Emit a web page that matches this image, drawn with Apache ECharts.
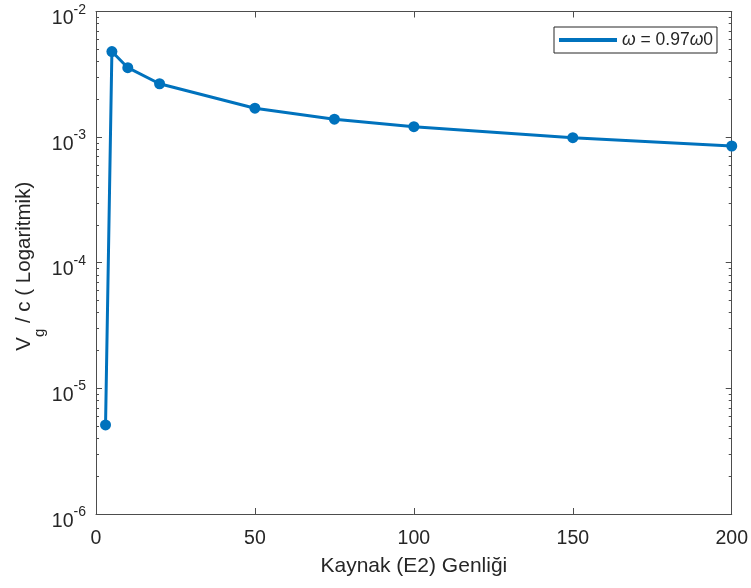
<!DOCTYPE html>
<html>
<head>
<meta charset="utf-8">
<script src="https://cdn.jsdelivr.net/npm/echarts@6/dist/echarts.min.js"></script>
<style>
  html, body { margin: 0; padding: 0; background: #ffffff; }
  #chart { width: 751px; height: 588px; }
</style>
</head>
<body>
<div id="chart"></div>
<script>
// Source amplitude (E2) and normalised group velocity Vg / c
const amplitudes = [3, 5, 10, 20, 50, 75, 100, 150, 200];
const groupVelocity = [5.12e-6, 4.80e-3, 3.57e-3, 2.66e-3, 1.70e-3, 1.39e-3, 1.21e-3, 0.99e-3, 8.5e-4];

// Axis ticks
const xTicks = [0, 50, 100, 150, 200];
const yDecades = [1e-6, 1e-5, 1e-4, 1e-3, 1e-2];
const yMinor = [];
for (let d = 0; d < yDecades.length - 1; d++) {
  for (let m = 2; m <= 9; m++) yMinor.push(m * yDecades[d]);
}

const seriesName = 'omega';
const FONT = '"Liberation Sans", Arial, Helvetica, sans-serif';
const TEXT = '#262626';
const AXIS = '#4d4d4d';
const BLUE = '#0072BD';

const chart = echarts.init(document.getElementById('chart'), null, { renderer: 'canvas' });

const logAxisBase = {
  type: 'log',
  logBase: 10,
  min: 1e-6,
  max: 1e-2,
  gridIndex: 0,
  splitLine: { show: false },
  minorTick: { show: false },
  minorSplitLine: { show: false }
};

function powerLabel(v) {
  const e = Math.round(Math.log10(v));
  return '{b|10}{s|' + e + '}';
}

const option = {
  backgroundColor: '#ffffff',
  animation: false,
  textStyle: { fontFamily: FONT, color: TEXT },
  grid: { left: 96, right: 19, top: 11.5, bottom: 74, containLabel: false },
  legend: {
    left: 554,
    top: 27,
    orient: 'vertical',
    backgroundColor: '#ffffff',
    borderColor: TEXT,
    borderWidth: 1,
    borderRadius: 0,
    padding: [4, 4, 4, 5],
    itemWidth: 58,
    itemHeight: 4,
    itemGap: 0,
    data: [{ name: seriesName, icon: 'rect' }],
    formatter: function () { return '{i|ω} = 0.97{i|ω}0'; },
    textStyle: {
      fontFamily: FONT,
      fontSize: 17.5,
      color: TEXT,
      rich: {
        i: { fontStyle: 'italic', fontFamily: FONT, fontSize: 17.5, color: TEXT }
      }
    }
  },
  xAxis: [
    {
      type: 'value',
      min: 0,
      max: 200,
      interval: 50,
      position: 'bottom',
      name: 'Kaynak (E2) Genliği',
      nameLocation: 'middle',
      nameGap: 42,
      nameMoveOverlap: false,
      nameTextStyle: { fontFamily: FONT, fontSize: 21, color: TEXT },
      axisLine: { show: true, lineStyle: { color: AXIS, width: 1 } },
      axisTick: { show: true, inside: true, length: 6, lineStyle: { color: AXIS } },
      axisLabel: { fontFamily: FONT, fontSize: 19.5, color: TEXT, margin: 15,
        customValues: xTicks },
      splitLine: { show: false }
    },
    {
      type: 'value',
      min: 0,
      max: 200,
      interval: 50,
      position: 'top',
      axisLine: { show: true, lineStyle: { color: AXIS, width: 1 } },
      axisTick: { show: true, inside: true, length: 6, lineStyle: { color: AXIS } },
      axisLabel: { show: false },
      splitLine: { show: false }
    }
  ],
  yAxis: [
    Object.assign({}, logAxisBase, {
      position: 'left',
      name: '{a|V}{g|g}{a| / c ( Logaritmik)}',
      nameLocation: 'middle',
      nameRotate: 90,
      nameGap: 62,
      nameMoveOverlap: false,
      nameTextStyle: {
        fontFamily: FONT,
        color: TEXT,
        padding: [0, 7, 0, 0],
        rich: {
          a: { fontFamily: FONT, fontSize: 20.5, lineHeight: 20.5, verticalAlign: 'top', color: TEXT },
          g: { fontFamily: FONT, fontSize: 15, lineHeight: 15, padding: [19, 0, 0, 0], verticalAlign: 'top', color: TEXT }
        }
      },
      axisLine: { show: true, lineStyle: { color: AXIS, width: 1 } },
      axisTick: { show: true, inside: true, length: 6, lineStyle: { color: AXIS }, customValues: yDecades },
      axisLabel: {
        show: true,
        margin: 10,
        customValues: yDecades,
        formatter: powerLabel,
        rich: {
          b: { fontFamily: FONT, fontSize: 19.5, lineHeight: 19.5, padding: [7, 0, 0, 0], verticalAlign: 'top', color: TEXT },
          s: { fontFamily: FONT, fontSize: 14, lineHeight: 14, padding: [1, 0, 0, 0], verticalAlign: 'top', color: TEXT }
        }
      }
    }),
    Object.assign({}, logAxisBase, {
      position: 'left',
      axisLine: { show: false },
      axisTick: { show: true, inside: true, length: 3, lineStyle: { color: AXIS }, customValues: yMinor },
      axisLabel: { show: false }
    }),
    Object.assign({}, logAxisBase, {
      position: 'right',
      axisLine: { show: true, lineStyle: { color: AXIS, width: 1 } },
      axisTick: { show: true, inside: true, length: 6, lineStyle: { color: AXIS }, customValues: yDecades },
      axisLabel: { show: false }
    }),
    Object.assign({}, logAxisBase, {
      position: 'right',
      axisLine: { show: false },
      axisTick: { show: true, inside: true, length: 3, lineStyle: { color: AXIS }, customValues: yMinor },
      axisLabel: { show: false }
    })
  ],
  series: [
    {
      name: seriesName,
      type: 'line',
      xAxisIndex: 0,
      yAxisIndex: 0,
      data: amplitudes.map((x, i) => [x, groupVelocity[i]]),
      symbol: 'circle',
      symbolSize: 11,
      showSymbol: true,
      lineStyle: { color: BLUE, width: 3 },
      itemStyle: { color: BLUE },
      emphasis: { disabled: true },
      z: 3
    }
  ]
};

chart.setOption(option);
</script>
</body>
</html>
